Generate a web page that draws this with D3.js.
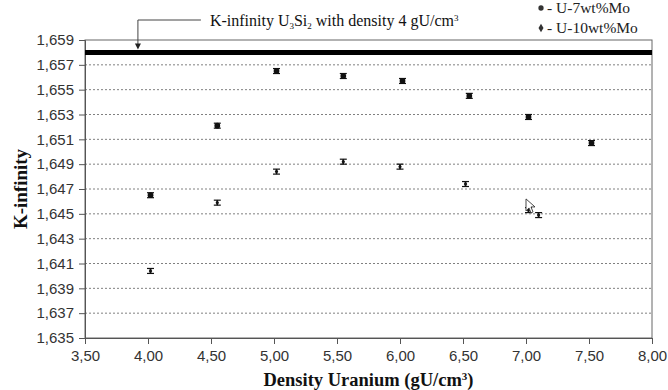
<!DOCTYPE html>
<html>
<head>
<meta charset="utf-8">
<script src="https://cdn.jsdelivr.net/npm/d3@7"></script>
<style>
  html, body { margin: 0; padding: 0; background: #fff; }
  svg { display: block; }
</style>
</head>
<body>
<svg id="chart" width="668" height="390"></svg>
<script>
// Uranium density (gU/cm3) and computed k-infinity for two U-Mo fuels
const densityU7 = [4.02, 4.55, 5.02, 5.55, 6.02, 6.55, 7.02, 7.52];
const kinfU7    = [1.6465, 1.6521, 1.6565, 1.6561, 1.6557, 1.6545, 1.6528, 1.6507];
const errU7     = [0.0002, 0.0002, 0.0002, 0.0002, 0.0002, 0.0002, 0.0002, 0.0002];

const densityU10 = [4.02, 4.55, 5.02, 5.55, 6.00, 6.52, 7.02, 7.10];
const kinfU10    = [1.6404, 1.6459, 1.6484, 1.6492, 1.6488, 1.6474, 1.6453, 1.6449];
const errU10     = [0.0002, 0.0002, 0.0002, 0.0002, 0.0002, 0.0002, 0.0002, 0.0002];

// Reference value: U3Si2 fuel at 4 gU/cm3
const kinfU3Si2 = 1.658;

const xTicks = [3.5, 4.0, 4.5, 5.0, 5.5, 6.0, 6.5, 7.0, 7.5, 8.0];
const yTicks = [1.635, 1.637, 1.639, 1.641, 1.643, 1.645, 1.647, 1.649, 1.651, 1.653, 1.655, 1.657, 1.659];

const legendLabels = ["- U-7wt%Mo", "- U-10wt%Mo"];

const svg = d3.select("#chart");
const plotLeft = 85, plotRight = 652, plotTop = 40, plotBottom = 338;

const x = d3.scaleLinear().domain([3.5, 8.0]).range([plotLeft, plotRight]);
const y = d3.scaleLinear().domain([1.635, 1.659]).range([plotBottom, plotTop]);

const commaLocale = d3.formatLocale({ decimal: ",", thousands: ".", grouping: [3], currency: ["", ""] });
const fmtX = commaLocale.format(".2f");
const fmtY = commaLocale.format(".3f");

const sans = "'Liberation Sans', Arial, sans-serif";
const serif = "'Liberation Serif', 'Times New Roman', serif";

// dotted horizontal gridlines
svg.append("g").selectAll("line")
  .data(yTicks.filter(t => t > 1.635 && t < 1.659))
  .join("line")
  .attr("x1", plotLeft).attr("x2", plotRight)
  .attr("y1", d => y(d)).attr("y2", d => y(d))
  .attr("stroke", "#808080").attr("stroke-width", 1)
  .attr("stroke-dasharray", "2,2");

// plot frame
svg.append("rect")
  .attr("x", plotLeft).attr("y", plotTop)
  .attr("width", plotRight - plotLeft).attr("height", plotBottom - plotTop)
  .attr("fill", "none").attr("stroke", "#666").attr("stroke-width", 1);

// axes
const yAxis = d3.axisLeft(y).tickValues(yTicks).tickFormat(fmtY).tickSize(6).tickPadding(5);
const gy = svg.append("g").attr("transform", `translate(${plotLeft},0)`).call(yAxis);
const xAxis = d3.axisBottom(x).tickValues(xTicks).tickFormat(fmtX).tickSize(6).tickPadding(6);
const gx = svg.append("g").attr("transform", `translate(0,${plotBottom})`).call(xAxis);
[gx, gy].forEach(g => {
  g.select(".domain").attr("stroke", "#555");
  g.selectAll(".tick line").attr("stroke", "#555");
  g.selectAll(".tick text").attr("fill", "#333").attr("font-family", sans).attr("font-size", 15);
});

// axis titles
svg.append("text")
  .attr("x", (plotLeft + plotRight) / 2).attr("y", 386)
  .attr("text-anchor", "middle")
  .attr("font-family", serif).attr("font-weight", "bold").attr("font-size", 18.5)
  .attr("fill", "#111")
  .html('Density Uranium (gU/cm<tspan baseline-shift="super" font-size="11">3</tspan>)');

svg.append("text")
  .attr("transform", `translate(27,${(plotTop + plotBottom) / 2}) rotate(-90)`)
  .attr("text-anchor", "middle")
  .attr("font-family", serif).attr("font-weight", "bold").attr("font-size", 19)
  .attr("fill", "#111")
  .text("K-infinity");

// U3Si2 reference line
svg.append("line")
  .attr("x1", plotLeft).attr("x2", plotRight)
  .attr("y1", y(kinfU3Si2)).attr("y2", y(kinfU3Si2))
  .attr("stroke", "#000").attr("stroke-width", 5);

// annotation with arrow
const ax = x(3.92);
svg.append("path")
  .attr("d", `M${ax + 63},20 H${ax} V${y(kinfU3Si2) - 6}`)
  .attr("fill", "none").attr("stroke", "#444").attr("stroke-width", 1);
svg.append("path")
  .attr("d", `M${ax - 3},${y(kinfU3Si2) - 9} L${ax + 3},${y(kinfU3Si2) - 9} L${ax},${y(kinfU3Si2) - 3} Z`)
  .attr("fill", "#222");
svg.append("text")
  .attr("x", ax + 72).attr("y", 26)
  .attr("font-family", serif).attr("font-size", 16).attr("fill", "#111")
  .html('K-infinity U<tspan baseline-shift="-30%" font-size="9">3</tspan>Si<tspan baseline-shift="-30%" font-size="9">2</tspan> with density 4 gU/cm<tspan baseline-shift="super" font-size="9">3</tspan>');

// error bars + markers
function drawSeries(xs, ys, es, marker) {
  const data = xs.map((d, i) => ({ x: d, y: ys[i], e: es[i] }));
  const g = svg.append("g");
  const pts = g.selectAll("g").data(data).join("g");
  pts.append("line")
    .attr("x1", d => x(d.x)).attr("x2", d => x(d.x))
    .attr("y1", d => y(d.y - d.e)).attr("y2", d => y(d.y + d.e))
    .attr("stroke", "#111").attr("stroke-width", 1.4);
  [-1, 1].forEach(s => {
    pts.append("line")
      .attr("x1", d => x(d.x) - 3.5).attr("x2", d => x(d.x) + 3.5)
      .attr("y1", d => y(d.y + s * d.e)).attr("y2", d => y(d.y + s * d.e))
      .attr("stroke", "#111").attr("stroke-width", 1.2);
  });
  pts.append("path")
    .attr("transform", d => `translate(${x(d.x)},${y(d.y)})`)
    .attr("d", marker)
    .attr("fill", "#111");
}
drawSeries(densityU7, kinfU7, errU7, d3.symbol(d3.symbolCircle, 26)());
drawSeries(densityU10, kinfU10, errU10, d3.symbol(d3.symbolDiamond, 10)());

// mouse pointer left on the plot
const cx = x(7.0), cy = y(1.6462);
svg.append("path")
  .attr("d", `M${cx},${cy} l0,12 l3,-3 l2,5 l2,-1 l-2,-5 l4,0 Z`)
  .attr("fill", "#fff").attr("stroke", "#333").attr("stroke-width", 0.9);

// legend
const legend = svg.append("g");
const legendMarkers = [d3.symbol(d3.symbolCircle, 22)(), d3.symbol(d3.symbolDiamond, 22)()];
legendLabels.forEach((lab, i) => {
  const ly = 8 + i * 20;
  legend.append("path")
    .attr("transform", `translate(541,${ly})`)
    .attr("d", legendMarkers[i]).attr("fill", "#333");
  legend.append("text")
    .attr("x", 547).attr("y", ly + 5)
    .attr("font-family", serif).attr("font-size", 15.5).attr("fill", "#222")
    .text(lab);
});
</script>
</body>
</html>
